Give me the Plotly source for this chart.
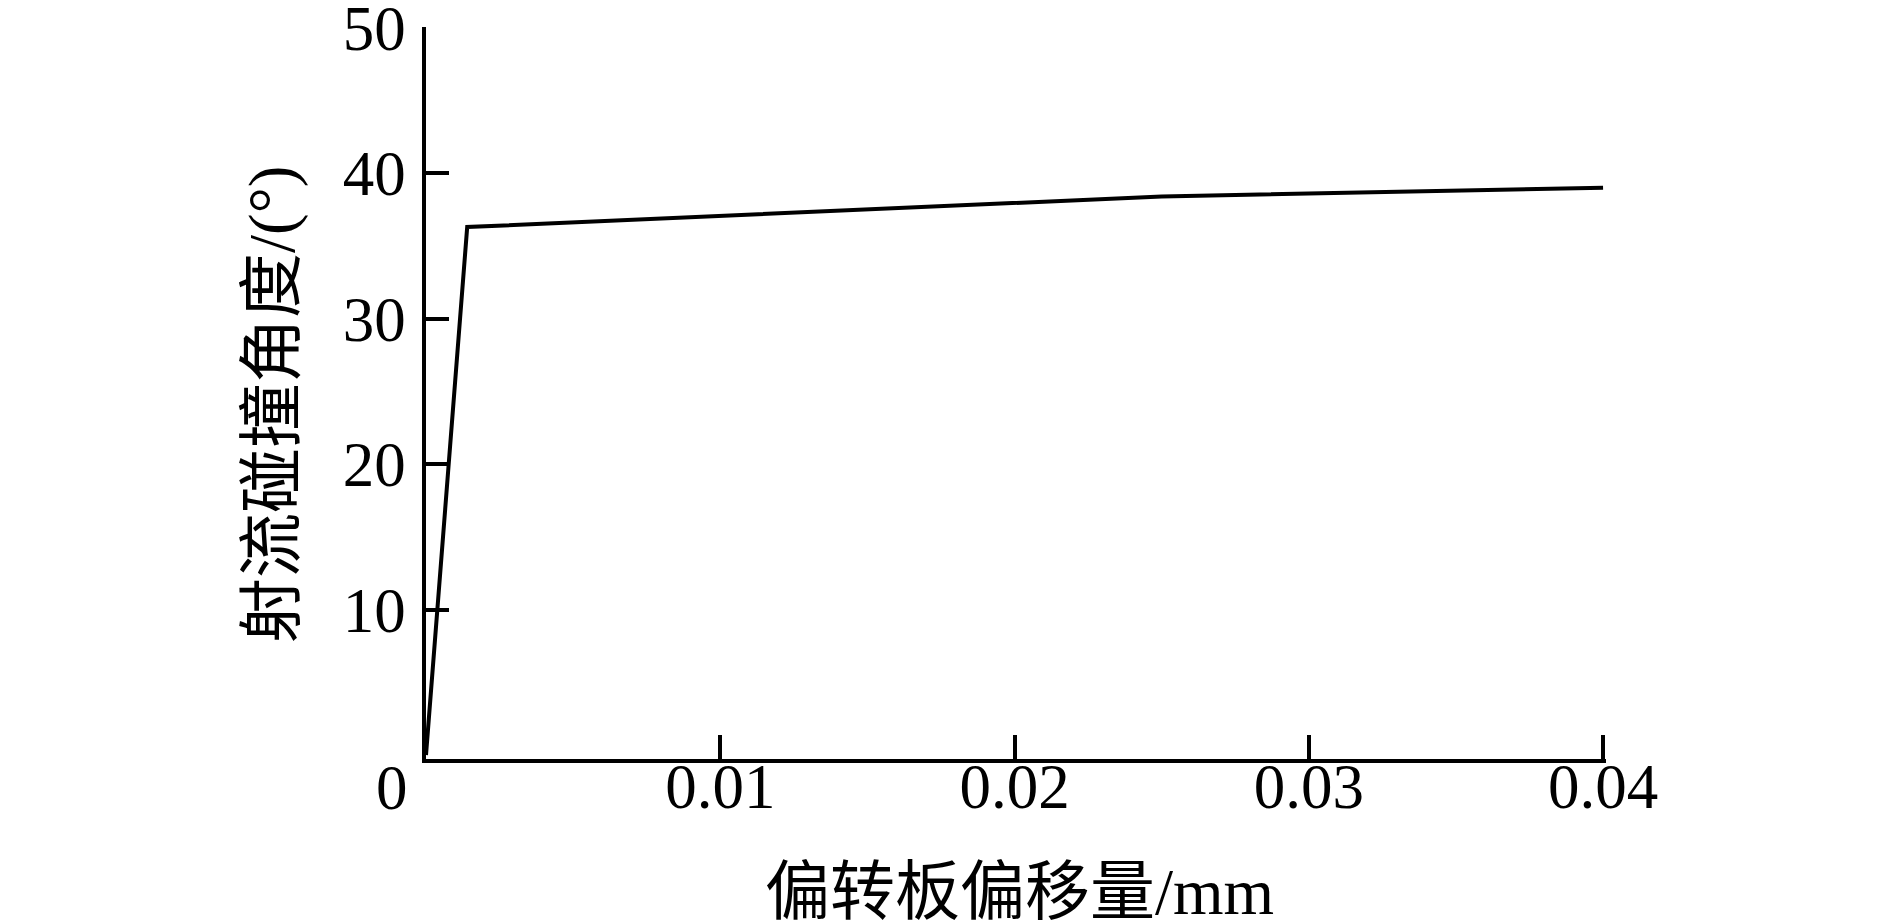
import plotly.graph_objects as go

# Data
offset_mm = [0.0, 0.0014, 0.025, 0.04]
angle_deg = [0.0, 36.3, 38.4, 39.0]

x_tickvals = [0.01, 0.02, 0.03, 0.04]
x_ticktext = ["0.01", "0.02", "0.03", "0.04"]
y_tickvals = [10, 20, 30, 40, 50]
y_ticktext = ["10", "20", "30", "40", "50"]

x_title = "偏转板偏移量/mm"
y_title = "射流碰撞角度/(°)"

FONT = "Liberation Serif, Times New Roman, Noto Sans CJK SC, serif"

fig = go.Figure()
fig.add_trace(go.Scatter(
    x=offset_mm, y=angle_deg, mode="lines",
    line=dict(color="black", width=4),
    showlegend=False, hoverinfo="skip",
))

W, H = 1889, 920
L, R, T, B = 418, 291, 19, 169

fig.update_layout(
    width=W, height=H,
    margin=dict(l=L, r=R, t=T, b=B, pad=0),
    paper_bgcolor="white", plot_bgcolor="white",
    font=dict(family=FONT, color="black", size=63),
    xaxis=dict(
        range=[0, 0.0401], tickvals=x_tickvals, ticktext=x_ticktext,
        ticks="inside", ticklen=24, tickwidth=3.5, tickcolor="black",
        showline=True, linecolor="black", linewidth=3.5,
        showgrid=False, zeroline=False, ticklabelstandoff=-30,
        automargin=False,
        tickfont=dict(family=FONT, size=63, color="black"),
    ),
    yaxis=dict(
        range=[-0.27, 50.05], tickvals=y_tickvals, ticktext=y_ticktext,
        ticks="inside", ticklen=23, tickwidth=3.5, tickcolor="black",
        showline=True, linecolor="black", linewidth=3.5,
        showgrid=False, zeroline=False, ticklabelstandoff=4,
        ticklabeloverflow="allow", automargin=False,
        tickfont=dict(family=FONT, size=63, color="black"),
    ),
    annotations=[
        dict(text="0", x=384, y=H - 780, xref="paper", yref="paper",
             xanchor="center", yanchor="middle",
             showarrow=False, font=dict(family=FONT, size=63)),
        dict(text=x_title, x=1012, y=H - 884, xref="paper", yref="paper",
             xanchor="center", yanchor="middle",
             showarrow=False, font=dict(family=FONT, size=65)),
        dict(text=y_title, x=264, y=H - 397, xref="paper", yref="paper",
             xanchor="center", yanchor="middle",
             showarrow=False, textangle=-90, font=dict(family=FONT, size=65)),
    ],
)

# convert pixel positions of annotations to paper coords
pw, ph = W - L - R, H - T - B
for a in fig.layout.annotations:
    a.x = (a.x - L) / pw
    a.y = (a.y - B) / ph

fig.write_html("out.html")
